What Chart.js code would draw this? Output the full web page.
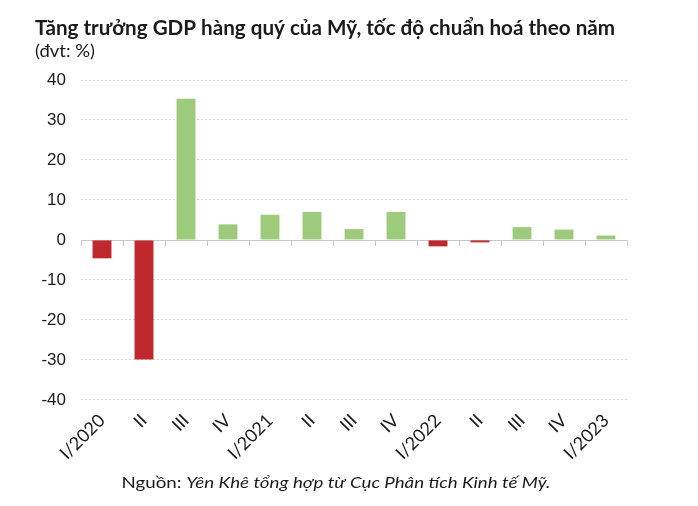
<!DOCTYPE html>
<html><head><meta charset="utf-8">
<script src="https://cdn.jsdelivr.net/npm/chart.js@4/dist/chart.umd.min.js"></script>
<style>html,body{margin:0;padding:0;background:#fff}#wrap{width:698px;height:506px}</style>
</head><body><div id="wrap"><canvas id="c" width="698" height="506"></canvas></div>
<script>
const categories = ["I/2020","II","III","IV","I/2021","II","III","IV","I/2022","II","III","IV","I/2023"];
const gdpGrowth = [-4.6, -29.9, 35.3, 3.9, 6.3, 7.0, 2.7, 7.0, -1.6, -0.6, 3.2, 2.6, 1.1];
const yTicks = [-40, -30, -20, -10, 0, 10, 20, 30, 40];
const titleText = "Tăng trưởng GDP hàng quý của Mỹ, tốc độ chuẩn hoá theo năm";
const subtitleText = "(đvt: %)";
const sourceLabel = "Nguồn: ";
const sourceText = "Yên Khê tổng hợp từ Cục Phân tích Kinh tế Mỹ.";

const RED = "#BF282D", GREEN = "#9DCB7B", TEXT = "#1a1a1a";

function stretchedText(ctx, parts, x, y, s) {
  ctx.save();
  ctx.translate(x, y);
  ctx.scale(s, 1);
  let cx = 0;
  for (const [font, txt] of parts) {
    ctx.font = font;
    ctx.fillText(txt, cx, 0);
    cx += ctx.measureText(txt).width;
  }
  ctx.restore();
}
function stretchedWidth(ctx, parts, s) {
  let w = 0;
  for (const [font, txt] of parts) { ctx.font = font; w += ctx.measureText(txt).width; }
  return w * s;
}

const decorPlugin = {
  id: "decor",
  beforeDatasetsDraw(chart) {
    const {ctx, chartArea, scales:{x, y}} = chart;
    const y0 = Math.round(y.getPixelForValue(0)) + 0.5;
    ctx.save();
    ctx.strokeStyle = "#c9c9c9";
    ctx.lineWidth = 1;
    ctx.beginPath();
    ctx.moveTo(chartArea.left, y0);
    ctx.lineTo(chartArea.right, y0);
    const half = (x.getPixelForValue(1) - x.getPixelForValue(0)) / 2;
    for (let i = 0; i <= categories.length; i++) {
      const px = Math.round(x.getPixelForValue(i) - half) + 0.5;
      ctx.moveTo(px, y0);
      ctx.lineTo(px, y0 + 5.5);
    }
    ctx.stroke();
    ctx.restore();
  },
  afterDraw(chart) {
    const {ctx} = chart;
    ctx.save();
    ctx.fillStyle = TEXT;
    ctx.textBaseline = "alphabetic";
    const tParts = [["bold 20px Lato", titleText]];
    const tw = stretchedWidth(ctx, tParts, 1);
    stretchedText(ctx, tParts, 35, 35, 580 / tw);
    stretchedText(ctx, [["16.5px Lato", subtitleText]], 35, 57, 1.12);
    const src = [["16px Lato", sourceLabel], ["italic 16px Lato", sourceText]];
    const w = stretchedWidth(ctx, src, 1.17);
    stretchedText(ctx, src, 336 - w / 2, 488, 1.17);
    ctx.restore();
  }
};

new Chart(document.getElementById("c"), {
  type: "bar",
  data: {
    labels: categories,
    datasets: [{
      data: gdpGrowth,
      backgroundColor: gdpGrowth.map(v => v < 0 ? RED : GREEN),
      borderWidth: 0,
      categoryPercentage: 1,
      barPercentage: 0.45
    }]
  },
  options: {
    responsive: false,
    animation: false,
    devicePixelRatio: 1,
    layout: {padding: {left: 35, right: 71, top: 80, bottom: 40}},
    plugins: {
      legend: {display: false},
      tooltip: {enabled: false},
      title: {display: false},
      subtitle: {display: false}
    },
    scales: {
      x: {
        grid: {display: false},
        border: {display: false},
        ticks: {color: TEXT, font: {family: "Lato", size: 18}, maxRotation: 45, minRotation: 45, autoSkip: false, padding: 2}
      },
      y: {
        min: -40, max: 40,
        afterBuildTicks(axis) { axis.ticks = yTicks.map(v => ({value: v})); },
        afterFit(axis) { axis.width = 46; },
        grid: {color: ctx => ctx.tick && ctx.tick.value === 0 ? "rgba(0,0,0,0)" : "#d4d4d4", drawTicks: false},
        border: {display: false, dash: [2, 2]},
        ticks: {color: TEXT, font: {family: "Liberation Sans", size: 17}, padding: 15}
      }
    }
  },
  plugins: [decorPlugin]
});
</script></body></html>
